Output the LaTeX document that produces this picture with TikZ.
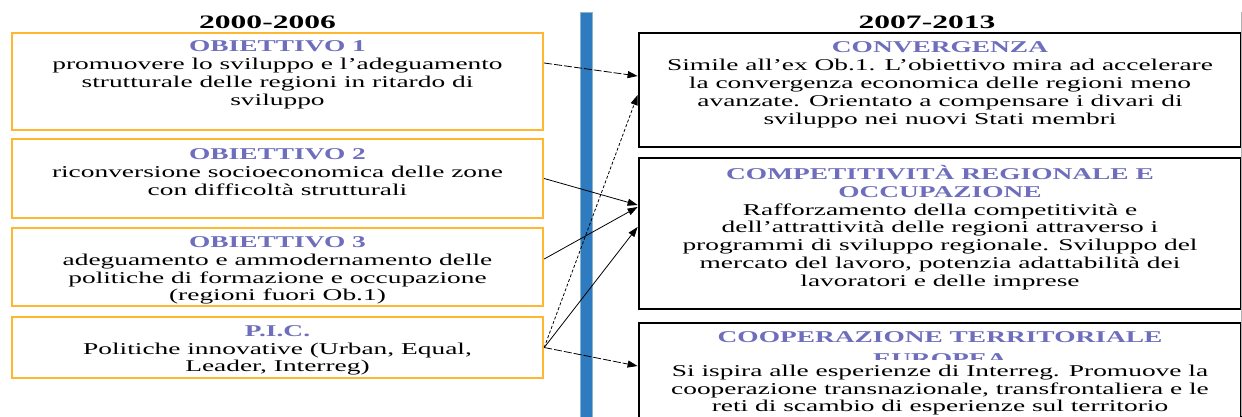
\documentclass[tikz,border=0pt]{standalone}
\usepackage{fontspec}
\setmainfont{Liberation Serif}[FakeStretch=1.66]
\usetikzlibrary{arrows.meta}
\definecolor{orangeb}{RGB}{255,183,48}
\definecolor{ttl}{RGB}{110,110,188}
\definecolor{barblue}{RGB}{46,123,191}
\definecolor{baredge}{RGB}{140,180,205}
\newcommand\fst{\rule{0pt}{16pt}}
\begin{document}
\begin{tikzpicture}[x=1pt,y=-1pt,
 obox/.style={draw=orangeb, line width=2.4pt, minimum width=531pt, inner sep=0},
 kbox/.style={draw=black, line width=2.8pt, minimum width=602pt, inner sep=0},
 txt/.style={anchor=north, inner sep=0, align=center, font=\fontsize{16.5}{17.8}\selectfont},
 hdr/.style={anchor=base, inner sep=0, font=\fontsize{19}{20}\selectfont\bfseries},
 conn/.style={line width=0.8pt, -{Triangle[length=10pt,width=7pt]}},
 longdash/.style={dash pattern=on 8pt off 2pt},
 shortdash/.style={dash pattern=on 3pt off 2pt}]
\clip (0,0) rectangle (1242,416);
\fill[white] (0,0) rectangle (1242,416);
% headers
\node[hdr] (h1) at (267.5,28) {2000-2006};
\node[hdr] (h2) at (927,28) {2007-2013};
% left boxes
\node[obox, minimum height=97pt] (ob1) at (277.5,81.5) {};
\node[obox, minimum height=79pt] (ob2) at (277.5,178.5) {};
\node[obox, minimum height=78pt] (ob3) at (277.5,267) {};
\node[obox, minimum height=61pt] (pic) at (277.5,347.5) {};
% right boxes
\node[kbox, minimum height=114pt] (conv) at (940,90) {};
\node[kbox, minimum height=151pt] (comp) at (940,233.5) {};
\node[kbox, minimum height=107pt] (coop) at (940,376.5) {};
\draw[gray!60, line width=0.8pt] (1241.5,12) -- (1241.5,416);
% texts
\node[txt] (t1) at (277.5,35.7) {\fst{\color{ttl}\bfseries OBIETTIVO 1}\\promuovere lo sviluppo e l'adeguamento\\strutturale delle regioni in ritardo di\\sviluppo};
\node[txt] (t2) at (277.5,143.3) {\fst{\color{ttl}\bfseries OBIETTIVO 2}\\riconversione socioeconomica delle zone\\con difficoltà strutturali};
\node[txt] (t3) at (277.5,231.3) {\fst{\color{ttl}\bfseries OBIETTIVO 3}\\adeguamento e ammodernamento delle\\politiche di formazione e occupazione\\(regioni fuori Ob.1)};
\node[txt] (t4) at (277.5,320) {\fst{\color{ttl}\bfseries P.I.C.}\\Politiche innovative (Urban, Equal,\\Leader, Interreg)};
\node[txt] (t5) at (940,36.7) {\fst{\color{ttl}\bfseries CONVERGENZA}\\Simile all'ex Ob.1. L'obiettivo mira ad accelerare\\la convergenza economica delle regioni meno\\avanzate. Orientato a compensare i divari di\\sviluppo nei nuovi Stati membri};
\node[txt] (t6) at (940,163.3) {\fst{\color{ttl}\bfseries COMPETITIVITÀ REGIONALE E}\\{\color{ttl}\bfseries OCCUPAZIONE}\\Rafforzamento della competitività e\\dell'attrattività delle regioni attraverso i\\programmi di sviluppo regionale. Sviluppo del\\mercato del lavoro, potenzia adattabilità dei\\lavoratori e delle imprese};
\node[txt] (t7) at (940,326.7) {\fst{\color{ttl}\bfseries COOPERAZIONE TERRITORIALE}\\[3.5pt]{\color{ttl}\bfseries EUROPEA}};
\node[txt, fill=white] (t8) at (940,359.5) {\rule{0pt}{16.5pt}Si ispira alle esperienze di Interreg. Promuove la\\cooperazione transnazionale, transfrontaliera e le\\reti di scambio di esperienze sul territorio};
% blue bar
\draw[baredge, line width=1pt, fill=barblue] (580,12) rectangle (592,420);
% connectors
\draw[conn, longdash] ([yshift=18.5pt]ob1.east) -- ([yshift=14pt]conv.west);
\draw[conn] (ob2.east) -- ([yshift=28.5pt]comp.west);
\draw[conn] ([yshift=8pt]ob3.east) -- ([yshift=26.5pt]comp.west);
\draw[conn, shortdash] (pic.east) -- ([yshift=-5pt]conv.west);
\draw[conn] (pic.east) -- ([yshift=6.5pt]comp.west);
\draw[conn, longdash] (pic.east) -- ([yshift=10.5pt]coop.west);
\end{tikzpicture}
\end{document}
